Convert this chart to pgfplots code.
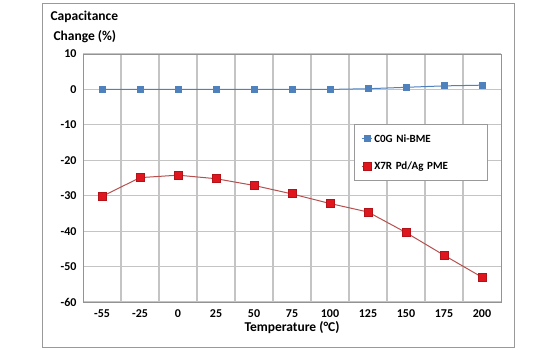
\documentclass[border=0pt]{standalone}
\usepackage{pgfplots}
\pgfplotsset{compat=1.18}
\usepackage{fontspec}
\setmainfont{Carlito}
\definecolor{cblue}{HTML}{4F81BD}
\definecolor{cred}{HTML}{E0161E}
\definecolor{credline}{HTML}{B5504F}
\definecolor{gridc}{HTML}{C4C4C4}
\begin{document}
\begin{tikzpicture}
\useasboundingbox (0pt,0pt) rectangle (560pt,350pt);
\draw[gray!80, line width=0.8pt] (42pt,3pt) rectangle (514pt,347pt);
\begin{axis}[
  at={(83pt,48pt)}, anchor=south west,
  scale only axis, width=418pt, height=248pt,
  xmin=-0.5, xmax=10.5, ymin=-60, ymax=10,
  xtick={0,...,10},
  xticklabels={-55,-25,0,25,50,75,100,125,150,175,200},
  minor xtick={0.5,1.5,...,9.5},
  ytick={-60,-50,...,10},
  xminorgrids=true, ymajorgrids=true,
  grid style={gridc, line width=1.1pt},
  minor grid style={gridc, line width=1.1pt},
  major tick length=0pt, minor tick length=0pt,
  axis line style={gray!85, line width=0.9pt},
  ticklabel style={font=\fontsize{12}{14}\selectfont\bfseries},
  /pgf/number format/assume math mode=true,
  xticklabel style={yshift=-4pt},
  yticklabel style={xshift=-3pt},
  xlabel={Temperature (°C)},
  xlabel style={font=\fontsize{13.5}{15}\selectfont\bfseries, yshift=3pt},
  legend style={at={(0.648,0.718)}, anchor=north west, draw=gray!80, line width=0.8pt,
    font=\fontsize{11}{13}\selectfont\bfseries, row sep=14pt, inner xsep=7pt, inner ysep=8pt,
    text width=104pt},
  legend image code/.code={\draw[#1] (0pt,0pt) -- (10pt,0pt); \draw[#1, only marks] plot coordinates {(6pt,0pt)};},
  legend cell align=left,
  clip=false,
]
\addplot[cblue, line width=1pt, mark=square*, mark size=3pt, mark options={fill=cblue, draw=cblue}]
 coordinates {(0,0) (1,0) (2,0) (3,0) (4,0) (5,0) (6,0) (7,0.2) (8,0.6) (9,1.0) (10,1.2)};
\addlegendentry{C0G Ni-BME}
\addplot[credline, line width=1pt, mark=square*, mark size=4pt, mark options={fill=cred, draw=cred!80!black}]
 coordinates {(0,-30.2) (1,-24.9) (2,-24.2) (3,-25.2) (4,-27.1) (5,-29.5) (6,-32.2) (7,-34.6) (8,-40.4) (9,-46.8) (10,-53.0)};
\addlegendentry{X7R Pd/Ag PME}
\end{axis}
\node[anchor=west, font=\fontsize{13.5}{15}\selectfont\bfseries] at (47pt,333pt) {Capacitance};
\node[anchor=west, font=\fontsize{13.5}{15}\selectfont\bfseries] at (50pt,313pt) {Change (\%)};
\end{tikzpicture}
\end{document}
